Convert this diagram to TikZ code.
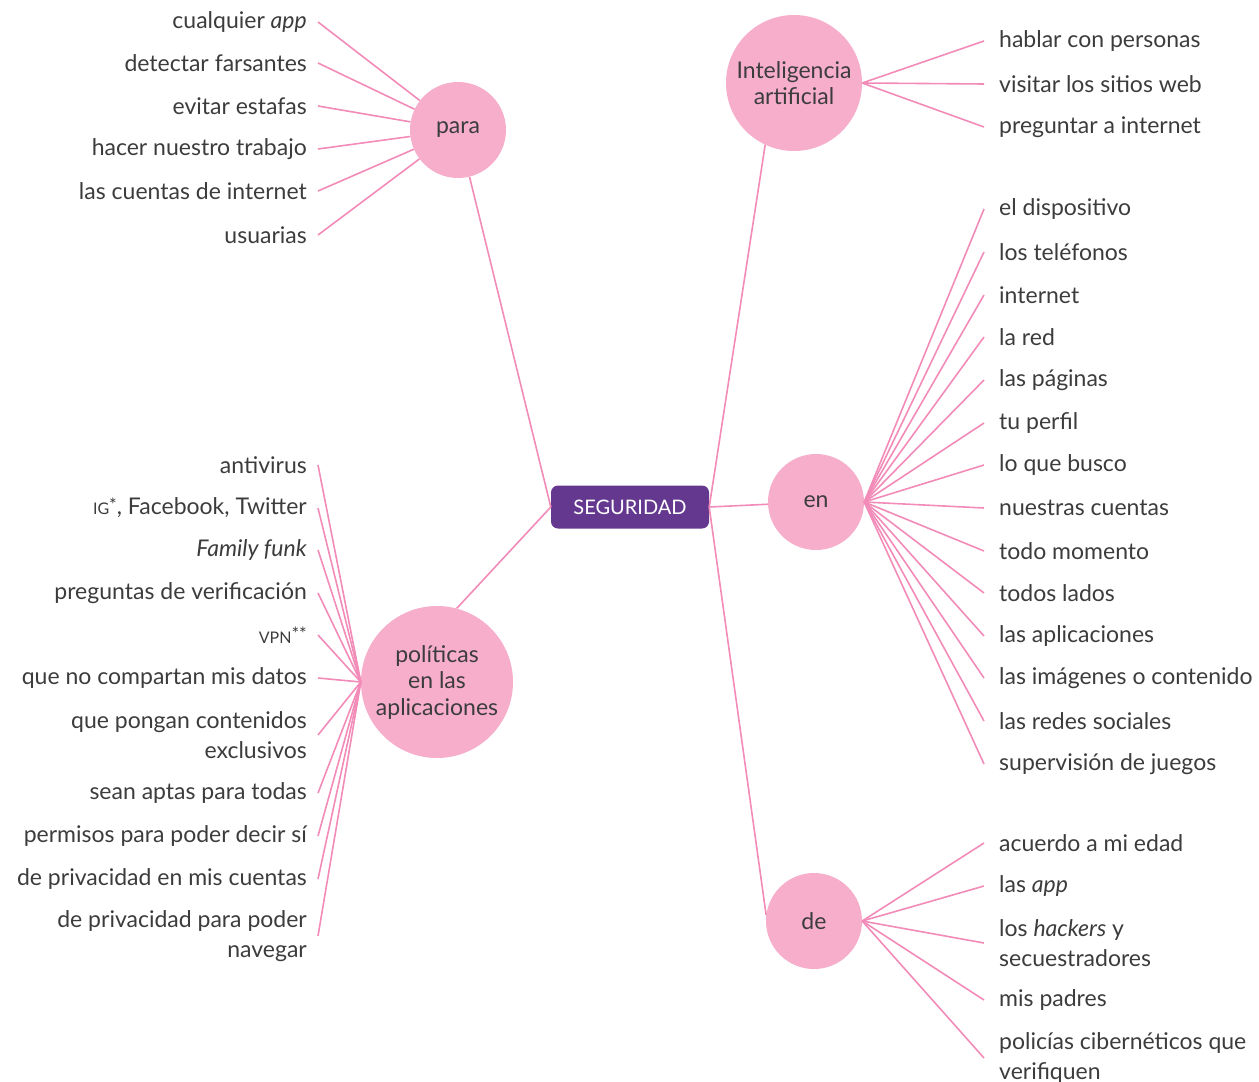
\documentclass[tikz,border=0pt]{standalone}
\usepackage{fontspec}
\setmainfont{Lato}
\usepackage{xcolor}
\definecolor{rosa}{RGB}{246,174,203}
\definecolor{rosalinea}{RGB}{242,139,184}
\definecolor{morado}{RGB}{100,56,143}
\definecolor{texto}{RGB}{60,60,60}
\newcommand{\hojafont}{\fontsize{23}{30}\selectfont}
\newcommand{\sigla}[1]{{\fontsize{16}{16}\selectfont #1}}
\newcommand{\nota}[1]{\raisebox{3pt}{\fontsize{18}{18}\selectfont #1}}

\begin{document}
\begin{tikzpicture}[x=1pt,y=-1pt,
    burbuja/.style={circle,fill=rosa,text=texto,align=center,inner sep=0pt,
      font=\fontsize{23}{26.5}\selectfont},
    hojaizq/.style={anchor=east,align=right,inner xsep=11pt,inner ysep=0pt,
      text=texto,font=\hojafont},
    hojader/.style={anchor=west,align=left,inner xsep=15pt,inner ysep=0pt,
      text=texto,font=\hojafont},
    rama/.style={draw=rosalinea,line width=1.6pt}]
  \useasboundingbox (0,0) rectangle (1259,1082);

  % centro
  \node[fill=morado,text=white,rounded corners=7pt,minimum width=158pt,
    minimum height=43pt,font=\fontsize{20}{20}\selectfont] (seg) at (630,507) {SEGURIDAD};

  % burbujas
  \node[burbuja,minimum size=96pt] (para) at (458,130) {para};
  \node[burbuja,minimum size=136pt] (ia) at (794,83) {Inteligencia\\artificial};
  \node[burbuja,minimum size=96pt] (en) at (816,502) {en};
  \node[burbuja,minimum size=152pt] (pol) at (437,682) {políticas\\en las\\aplicaciones};
  \node[burbuja,minimum size=96pt] (de) at (814,921) {de};

  % para
  \node[hojaizq] (p1) at (318,22) {cualquier \textit{app}};
  \node[hojaizq] (p2) at (318,63) {detectar farsantes};
  \node[hojaizq] (p3) at (318,106) {evitar estafas};
  \node[hojaizq] (p4) at (318,149) {hacer nuestro trabajo};
  \node[hojaizq] (p5) at (318,191) {las cuentas de internet};
  \node[hojaizq] (p6) at (318,235) {usuarias};

  % politicas en las aplicaciones
  \node[hojaizq] (po1) at (318,465) {antivirus};
  \node[hojaizq] (po2) at (318,508) {\sigla{IG}\nota{*}, Facebook, Twitter};
  \node[hojaizq] (po3) at (318,550) {\textit{Family funk}};
  \node[hojaizq] (po4) at (318,593) {preguntas de verificación};
  \node[hojaizq] (po5) at (318,635) {\sigla{VPN}\nota{**}};
  \node[hojaizq] (po6) at (318,678) {que no compartan mis datos};
  \node[hojaizq] (po7) at (318,735) {que pongan contenidos\\exclusivos};
  \node[hojaizq] (po8) at (318,793) {sean aptas para todas};
  \node[hojaizq] (po9) at (318,836) {permisos para poder decir sí};
  \node[hojaizq] (po10) at (318,879) {de privacidad en mis cuentas};
  \node[hojaizq] (po11) at (318,936) {de privacidad para poder\\navegar};

  % inteligencia artificial
  \node[hojader] (ia1) at (984,41) {hablar con personas};
  \node[hojader] (ia2) at (984,84) {visitar los sitios web};
  \node[hojader] (ia3) at (984,127) {preguntar a internet};

  % en
  \node[hojader] (en1) at (984,209) {el dispositivo};
  \node[hojader] (en2) at (984,252) {los teléfonos};
  \node[hojader] (en3) at (984,295) {internet};
  \node[hojader] (en4) at (984,337) {la red};
  \node[hojader] (en5) at (984,380) {las páginas};
  \node[hojader] (en6) at (984,423) {tu perfil};
  \node[hojader] (en7) at (984,465) {lo que busco};
  \node[hojader] (en8) at (984,508) {nuestras cuentas};
  \node[hojader] (en9) at (984,551) {todo momento};
  \node[hojader] (en10) at (984,593) {todos lados};
  \node[hojader] (en11) at (984,636) {las aplicaciones};
  \node[hojader] (en12) at (984,678) {las imágenes o contenido};
  \node[hojader] (en13) at (984,721) {las redes sociales};
  \node[hojader] (en14) at (984,764) {supervisión de juegos};

  % de
  \node[hojader] (de1) at (984,843) {acuerdo a mi edad};
  \node[hojader] (de2) at (984,886) {las \textit{app}};
  \node[hojader] (de3) at (984,943) {los \textit{hackers} y\\secuestradores};
  \node[hojader] (de4) at (984,1000) {mis padres};
  \node[hojader] (de5) at (984,1058) {policías cibernéticos que\\verifiquen};

  \path[rama]
    (seg.west) edge (para)
    (seg.west) edge (pol.75)
    (seg.east) edge (ia.245)
    (seg.east) edge (en)
    (seg.east) edge (de.173);

  \path[rama]
    (para) edge (p1.east) (para) edge (p2.east) (para) edge (p3.east)
    (para) edge (p4.east) (para) edge (p5.east) (para) edge (p6.east);

  \path[rama]
    (pol.west) edge (po1.east) (pol.west) edge (po2.east) (pol.west) edge (po3.east)
    (pol.west) edge (po4.east) (pol.west) edge (po5.east) (pol.west) edge (po6.east)
    (pol.west) edge (po7.east) (pol.west) edge (po8.east) (pol.west) edge (po9.east)
    (pol.west) edge (po10.east) (pol.west) edge (po11.east);

  \path[rama]
    (ia.east) edge (ia1.west) (ia.east) edge (ia2.west) (ia.east) edge (ia3.west);

  \path[rama]
    (en.east) edge (en1.west) (en.east) edge (en2.west) (en.east) edge (en3.west)
    (en.east) edge (en4.west) (en.east) edge (en5.west) (en.east) edge (en6.west)
    (en.east) edge (en7.west) (en.east) edge (en8.west) (en.east) edge (en9.west)
    (en.east) edge (en10.west) (en.east) edge (en11.west) (en.east) edge (en12.west)
    (en.east) edge (en13.west) (en.east) edge (en14.west);

  \path[rama]
    (de.east) edge (de1.west) (de.east) edge (de2.west) (de.east) edge (de3.west)
    (de.east) edge (de4.west) (de.east) edge (de5.west);
\end{tikzpicture}
\end{document}
